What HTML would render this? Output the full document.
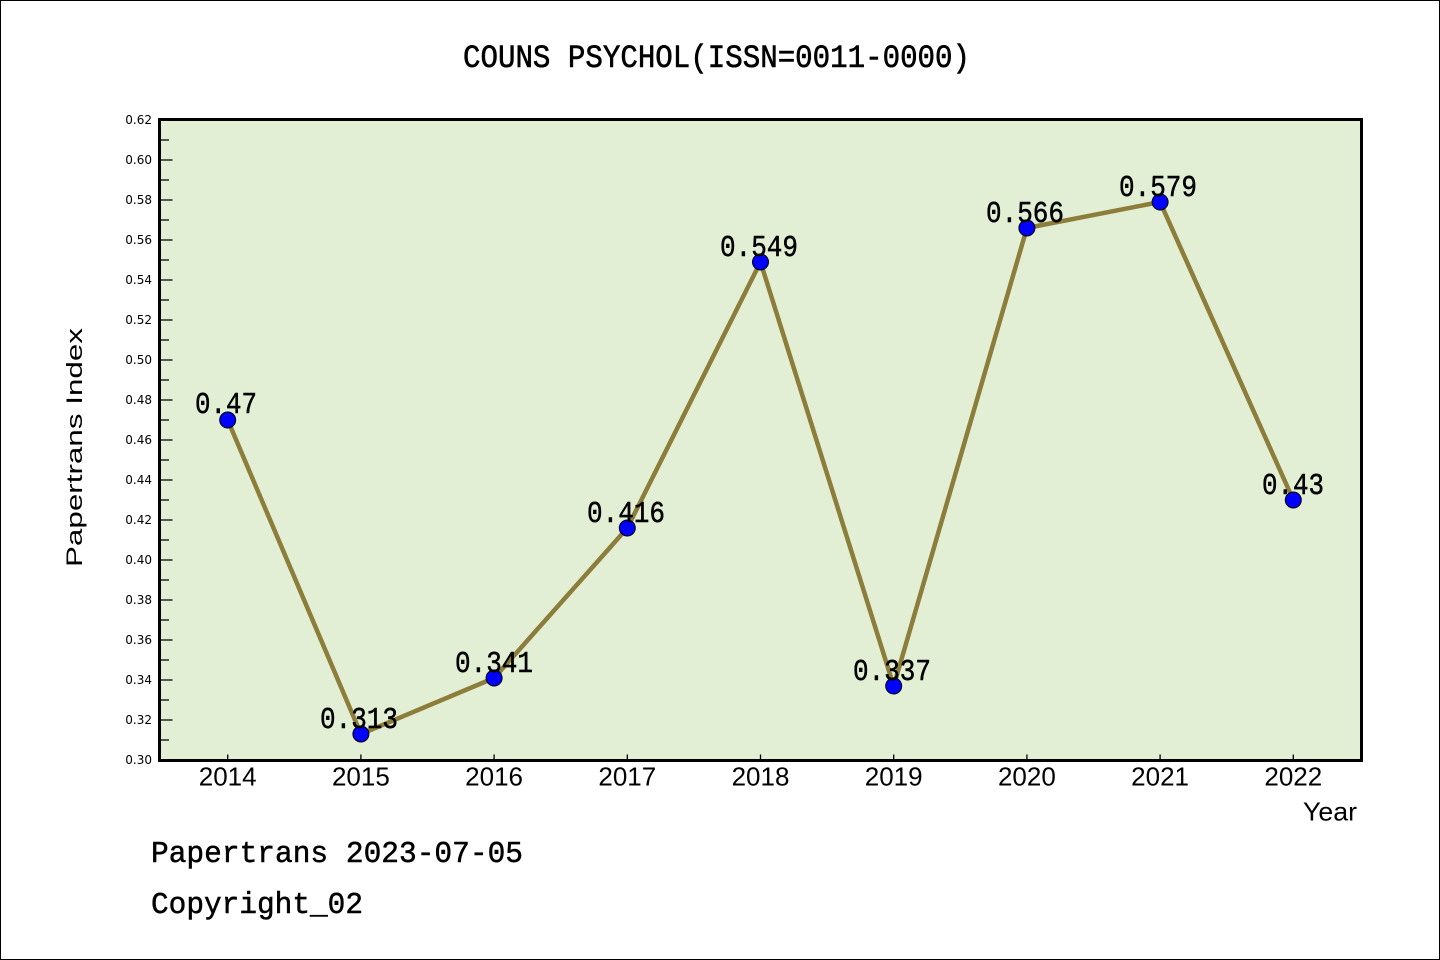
<!DOCTYPE html>
<html><head><meta charset="utf-8"><style>
html,body{margin:0;padding:0;background:#fff;}
svg{display:block;}
</style></head><body>
<svg width="1440" height="960" viewBox="0 0 1440 960" xmlns="http://www.w3.org/2000/svg">
<rect x="0.5" y="0.5" width="1439" height="959" fill="#fff" stroke="#000" stroke-width="1"/>
<text x="463" y="67" font-family="Liberation Mono, monospace" font-size="32" textLength="507" lengthAdjust="spacingAndGlyphs" fill="#000" stroke="#000" stroke-width="0.6">COUNS PSYCHOL(ISSN=0011-0000)</text>
<rect x="159.5" y="119.5" width="1202" height="641" fill="#e2efd5"/>
<g stroke="#000" stroke-width="1.3">
<path d="M159.5 120H172.5M159.5 160H172.5M159.5 200H172.5M159.5 240H172.5M159.5 280H172.5M159.5 320H172.5M159.5 360H172.5M159.5 400H172.5M159.5 440H172.5M159.5 480H172.5M159.5 520H172.5M159.5 560H172.5M159.5 600H172.5M159.5 640H172.5M159.5 680H172.5M159.5 720H172.5M159.5 760H172.5"/>
<path d="M159.5 140H169M159.5 180H169M159.5 220H169M159.5 260H169M159.5 300H169M159.5 340H169M159.5 380H169M159.5 420H169M159.5 460H169M159.5 500H169M159.5 540H169M159.5 580H169M159.5 620H169M159.5 660H169M159.5 700H169M159.5 740H169"/>
<path d="M227.7 760V754.5M360.9 760V754.5M494.1 760V754.5M627.3 760V754.5M760.5 760V754.5M893.7 760V754.5M1026.9 760V754.5M1160.1 760V754.5M1293.3 760V754.5"/>
</g>
<rect x="159.5" y="119.5" width="1202" height="641" fill="none" stroke="#000" stroke-width="3"/>
<g font-family="DejaVu Sans, sans-serif" font-size="12" fill="#000" text-anchor="end">
<text x="152" y="124">0.62</text><text x="152" y="164">0.60</text><text x="152" y="204">0.58</text><text x="152" y="244">0.56</text><text x="152" y="284">0.54</text><text x="152" y="324">0.52</text><text x="152" y="364">0.50</text><text x="152" y="404">0.48</text><text x="152" y="444">0.46</text><text x="152" y="484">0.44</text><text x="152" y="524">0.42</text><text x="152" y="564">0.40</text><text x="152" y="604">0.38</text><text x="152" y="644">0.36</text><text x="152" y="684">0.34</text><text x="152" y="724">0.32</text><text x="152" y="764">0.30</text>
</g>
<g font-family="Liberation Sans, sans-serif" font-size="26" fill="#000" text-anchor="middle">
<text x="227.7" y="785.5">2014</text><text x="360.9" y="785.5">2015</text><text x="494.1" y="785.5">2016</text><text x="627.3" y="785.5">2017</text><text x="760.5" y="785.5">2018</text><text x="893.7" y="785.5">2019</text><text x="1026.9" y="785.5">2020</text><text x="1160.1" y="785.5">2021</text><text x="1293.3" y="785.5">2022</text>
</g>
<text x="1303" y="820.5" font-family="Liberation Sans, sans-serif" font-size="26" textLength="54" lengthAdjust="spacingAndGlyphs" fill="#000">Year</text>
<text transform="translate(82,567) rotate(-90)" x="0" y="0" font-family="Liberation Sans, sans-serif" font-size="22" textLength="239" lengthAdjust="spacingAndGlyphs" fill="#000">Papertrans Index</text>
<polyline points="227.7,420 360.9,734 494.1,678 627.3,528 760.5,262 893.7,686 1026.9,228 1160.1,202 1293.3,500" fill="none" stroke="#8c7d3a" stroke-width="4.5" stroke-linejoin="round"/>
<g fill="#0000ff" stroke="#000" stroke-width="1">
<circle cx="227.7" cy="420" r="8"/><circle cx="360.9" cy="734" r="8"/><circle cx="494.1" cy="678" r="8"/><circle cx="627.3" cy="528" r="8"/><circle cx="760.5" cy="262" r="8"/><circle cx="893.7" cy="686" r="8"/><circle cx="1026.9" cy="228" r="8"/><circle cx="1160.1" cy="202" r="8"/><circle cx="1293.3" cy="500" r="8"/>
</g>
<g font-family="Liberation Mono, monospace" font-size="31" fill="#000" stroke="#000" stroke-width="0.5">
<text x="195" y="413" textLength="62" lengthAdjust="spacingAndGlyphs">0.47</text>
<text x="320" y="728" textLength="78" lengthAdjust="spacingAndGlyphs">0.313</text>
<text x="455" y="672" textLength="78" lengthAdjust="spacingAndGlyphs">0.341</text>
<text x="587" y="522" textLength="78" lengthAdjust="spacingAndGlyphs">0.416</text>
<text x="720" y="256" textLength="78" lengthAdjust="spacingAndGlyphs">0.549</text>
<text x="853" y="680" textLength="78" lengthAdjust="spacingAndGlyphs">0.337</text>
<text x="986" y="222" textLength="78" lengthAdjust="spacingAndGlyphs">0.566</text>
<text x="1119" y="196" textLength="78" lengthAdjust="spacingAndGlyphs">0.579</text>
<text x="1262" y="494" textLength="62" lengthAdjust="spacingAndGlyphs">0.43</text>
</g>
<text x="151" y="862" font-family="Liberation Mono, monospace" font-size="31" textLength="372" lengthAdjust="spacingAndGlyphs" fill="#000" stroke="#000" stroke-width="0.5">Papertrans 2023-07-05</text>
<text x="151" y="913" font-family="Liberation Mono, monospace" font-size="31" textLength="212" lengthAdjust="spacingAndGlyphs" fill="#000" stroke="#000" stroke-width="0.5">Copyright_02</text>
</svg>
</body></html>
